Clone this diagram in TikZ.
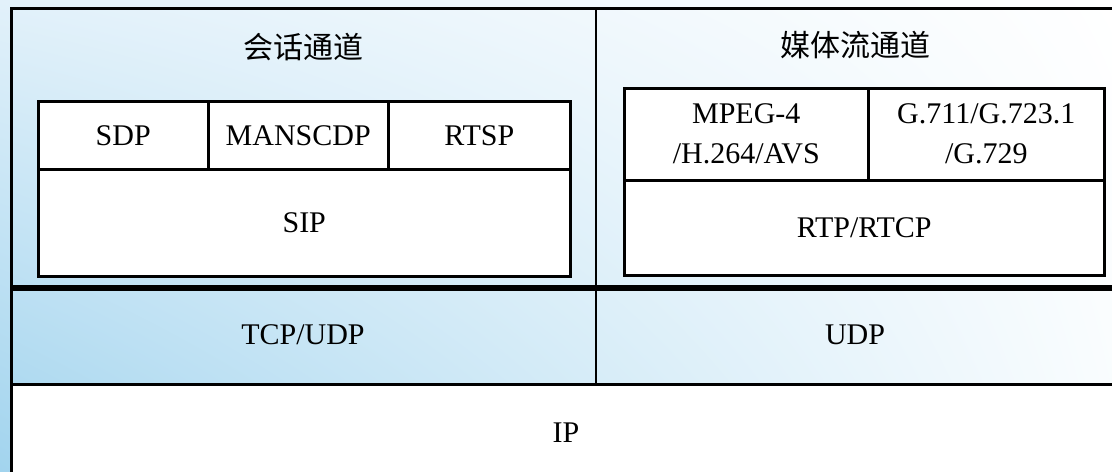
\documentclass[tikz,border=0pt]{standalone}
\usepackage{fontspec}
\usetikzlibrary{shadings}
\setmainfont{Liberation Serif}
\newfontfamily\cjk{Noto Sans CJK SC}
\definecolor{bgA}{HTML}{E2F1FA}
\definecolor{bgB}{HTML}{A2D4EE}
\definecolor{bgC}{HTML}{FFFFFF}
\definecolor{bgD}{HTML}{F8FCFE}
\begin{document}
\begin{tikzpicture}[x=0.5pt,y=-0.5pt,
  cell/.style={draw=black, line width=1.25pt, fill=white, rectangle, inner sep=0pt, anchor=north west, align=center, font=\fontsize{15}{20}\selectfont},
  lbl/.style={inner sep=0pt, align=center, font=\fontsize{15}{20}\selectfont},
  title/.style={inner sep=0pt, font=\cjk\fontsize{15}{18}\selectfont},
  frame/.style={draw=black, line width=1.5pt},
  thick/.style={draw=black, line width=3pt},
  divider/.style={draw=black, line width=1pt}]
\useasboundingbox (0,0) rectangle (1112,471);
\clip (0,0) rectangle (1112,471);
\shade[upper left=bgA, lower left=bgB, upper right=bgC, lower right=bgD] (0,0) rectangle (1112,471);
% IP row white
\fill[white] (11,384) rectangle (1120,480);
% outer frame
\draw[frame] (11,490) -- (11,8) -- (1120,8);
\draw[thick] (11,288) -- (1120,288);
\draw[frame] (11,384) -- (1120,384);
\draw[divider] (596,8) -- (596,384);
% titles
\node[title] (session) at (303,47) {会话通道};
\node[title] (media) at (855,45) {媒体流通道};
% left stack
\node[cell, minimum width=85pt, minimum height=34pt] (sdp) at (37,100) {SDP};
\node[cell, minimum width=90pt, minimum height=34pt] (manscdp) at (207,100) {MANSCDP};
\node[cell, minimum width=91pt, minimum height=34pt] (rtsp) at (387,100) {RTSP};
\node[cell, minimum width=266pt, minimum height=53.5pt] (sip) at (37,168) {SIP};
% right stack
\node[cell, minimum width=122pt, minimum height=46pt] (video) at (623,87) {MPEG-4\\/H.264/AVS};
\node[cell, minimum width=118pt, minimum height=46pt] (audio) at (867,87) {G.711/G.723.1\\/G.729};
\node[cell, minimum width=240pt, minimum height=47.5pt] (rtp) at (623,179) {RTP/RTCP};
% transport and network
\node[lbl] (tcpudp) at (303,335) {TCP/UDP};
\node[lbl] (udp) at (855,335) {UDP};
\node[lbl] (ip) at (566,433) {IP};
\end{tikzpicture}
\end{document}
